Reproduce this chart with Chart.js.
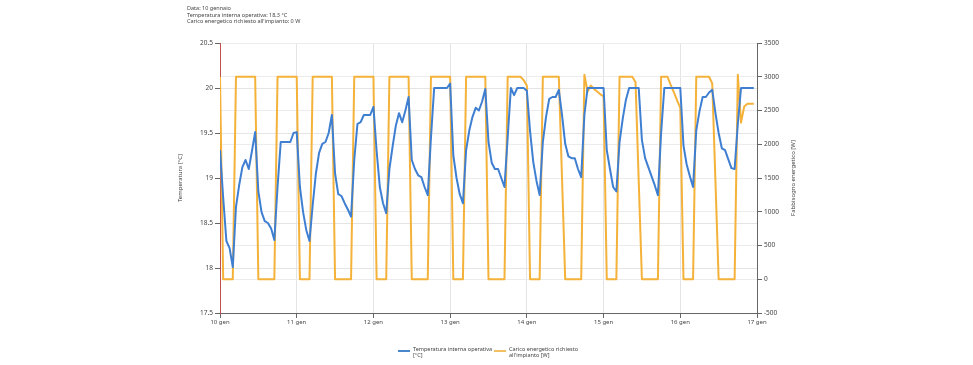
<!DOCTYPE html>
<html>
<head>
<meta charset="utf-8">
<script src="https://cdn.jsdelivr.net/npm/chart.js@4.4.1/dist/chart.umd.min.js"></script>
<style>
  body { margin: 0; background: #fff; font-family: "Noto Sans", "DejaVu Sans", sans-serif; }
  #wrap { position: relative; width: 973px; height: 365px; }
  #myChart { position: absolute; left: 0; top: 0; }
  .info { position: absolute; left: 187px; top: 5px; font-size: 5.5px; line-height: 6.5px; color: #444; }
  .legend { position: absolute; top: 346px; font-size: 5.5px; line-height: 6px; color: #444; }
  .legend .sw { position: absolute; top: 4px; width: 12px; height: 2px; }
  .legend .tx { position: absolute; left: 15px; top: 0; white-space: nowrap; }
</style>
</head>
<body>
<div id="wrap">
  <canvas id="myChart" width="973" height="365"></canvas>
  <div class="info">
    Data: 10 gennaio<br>
    Temperatura interna operativa: 18,3 °C<br>
    Carico energetico richiesto all'impianto: 0 W
  </div>
  <div class="legend" style="left:398px">
    <div class="sw" style="background:#4a86cc"></div>
    <div class="tx">Temperatura interna operativa<br>[°C]</div>
  </div>
  <div class="legend" style="left:494px">
    <div class="sw" style="background:#f2c063"></div>
    <div class="tx">Carico energetico richiesto<br>all'impianto [W]</div>
  </div>
</div>
<script>
// giorni sull'asse x (un tick ogni 24 ore)
const dayLabels = ['10 gen', '11 gen', '12 gen', '13 gen', '14 gen', '15 gen', '16 gen', '17 gen'];

// temperatura interna operativa [°C], valori orari
const temperature = [
    19.31, 18.78, 18.30, 18.22, 18.01, 18.68, 18.92, 19.12, 19.20, 19.10, 19.30, 19.51,
    18.85, 18.62, 18.52, 18.50, 18.44, 18.31, 18.90, 19.40, 19.40, 19.40, 19.40, 19.50,
    19.51, 18.90, 18.62, 18.42, 18.30, 18.70, 19.05, 19.28, 19.38, 19.40, 19.50, 19.70,
    19.05, 18.82, 18.80, 18.72, 18.65, 18.57, 19.20, 19.60, 19.62, 19.70, 19.70, 19.70,
    19.79, 19.30, 18.90, 18.72, 18.61, 19.10, 19.35, 19.58, 19.72, 19.62, 19.75, 19.90,
    19.20, 19.10, 19.03, 19.01, 18.90, 18.81, 19.45, 20.00, 20.00, 20.00, 20.00, 20.00,
    20.05, 19.25, 19.00, 18.82, 18.72, 19.31, 19.53, 19.68, 19.78, 19.75, 19.85, 19.99,
    19.40, 19.17, 19.10, 19.10, 19.00, 18.90, 19.45, 20.00, 19.92, 20.00, 20.00, 20.00,
    19.97, 19.52, 19.18, 18.97, 18.81, 19.40, 19.68, 19.88, 19.90, 19.90, 19.98, 19.70,
    19.38, 19.24, 19.22, 19.22, 19.10, 19.01, 19.70, 20.00, 20.00, 20.00, 20.00, 20.00,
    20.00, 19.31, 19.10, 18.90, 18.85, 19.40, 19.66, 19.87, 20.00, 20.00, 20.00, 20.00,
    19.42, 19.22, 19.12, 19.02, 18.92, 18.81, 19.50, 20.00, 20.00, 20.00, 20.00, 20.00,
    20.00, 19.36, 19.15, 19.02, 18.90, 19.53, 19.74, 19.90, 19.90, 19.95, 19.98, 19.72,
    19.50, 19.33, 19.31, 19.21, 19.11, 19.10, 19.60, 20.00, 20.00, 20.00, 20.00, 20.00
];

// carico energetico richiesto all'impianto [W], valori orari
const load = [
    3000, 0, 0, 0, 0, 3000, 3000, 3000, 3000, 3000, 3000, 3000,
    0, 0, 0, 0, 0, 0, 3000, 3000, 3000, 3000, 3000, 3000,
    3000, 0, 0, 0, 0, 3000, 3000, 3000, 3000, 3000, 3000, 3000,
    0, 0, 0, 0, 0, 0, 3000, 3000, 3000, 3000, 3000, 3000,
    3000, 0, 0, 0, 0, 3000, 3000, 3000, 3000, 3000, 3000, 3000,
    0, 0, 0, 0, 0, 0, 3000, 3000, 3000, 3000, 3000, 3000,
    3000, 0, 0, 0, 0, 3000, 3000, 3000, 3000, 3000, 3000, 3000,
    0, 0, 0, 0, 0, 0, 3000, 3000, 3000, 3000, 3000, 2950,
    2870, 0, 0, 0, 0, 3000, 3000, 3000, 3000, 3000, 3000, 1500,
    0, 0, 0, 0, 0, 0, 3030, 2780, 2870, 2820, 2780, 2740,
    2710, 0, 0, 0, 0, 3000, 3000, 3000, 3000, 3000, 2920, 1450,
    0, 0, 0, 0, 0, 0, 3000, 3000, 3000, 2880, 2770, 2650,
    2540, 0, 0, 0, 0, 3000, 3000, 3000, 3000, 3000, 2900, 1450,
    0, 0, 0, 0, 0, 0, 3030, 2320, 2560, 2600, 2600, 2600
];

const hours = temperature.map((v, i) => i);

const tickFont = { family: '"Noto Sans", sans-serif', size: 6.5 };

// titoli degli assi verticali disegnati a mano (entrambi letti dal basso verso l'alto)
const axisTitles = {
    id: 'axisTitles',
    afterDraw(chart) {
        const ctx = chart.ctx;
        const area = chart.chartArea;
        const midY = (area.top + area.bottom) / 2;
        ctx.save();
        ctx.fillStyle = '#444';
        ctx.font = '6px "Noto Sans", sans-serif';
        ctx.textAlign = 'center';
        ctx.textBaseline = 'middle';
        [[180.5, 'Temperatura [°C]'], [793, 'Fabbisogno energetico [W]']].forEach(t => {
            ctx.save();
            ctx.translate(t[0], midY);
            ctx.rotate(-Math.PI / 2);
            ctx.fillText(t[1], 0, 0);
            ctx.restore();
        });
        ctx.restore();
    }
};

const ctx = document.getElementById('myChart').getContext('2d');
const chart = new Chart(ctx, {
    type: 'line',
    data: {
        labels: hours,
        datasets: [{
            label: 'Temperatura interna operativa [°C]',
            data: temperature,
            yAxisID: 'y',
            borderColor: '#3f7fd2',
            borderWidth: 2,
            borderJoinStyle: 'round',
            pointRadius: 0,
            tension: 0
        }, {
            label: "Carico energetico richiesto all'impianto [W]",
            data: load,
            yAxisID: 'y1',
            borderColor: '#f4b23a',
            borderWidth: 2,
            borderJoinStyle: 'round',
            pointRadius: 0,
            tension: 0
        }]
    },
    options: {
        responsive: false,
        animation: false,
        layout: { padding: { top: 43 } },
        plugins: {
            legend: { display: false },
            tooltip: { enabled: false }
        },
        scales: {
            x: {
                type: 'linear',
                min: 0,
                max: 168,
                afterFit: s => { s.height = 52; },
                ticks: {
                    stepSize: 24,
                    font: { family: '"Noto Sans", sans-serif', size: 6 },
                    color: '#444',
                    padding: 1,
                    maxRotation: 0,
                    callback: v => dayLabels[v / 24]
                },
                grid: { color: '#e4e4e4', tickColor: '#666', tickLength: 5 },
                border: { color: '#666' }
            },
            y: {
                position: 'left',
                min: 17.5,
                max: 20.5,
                afterFit: s => { s.width = 220; },
                ticks: { stepSize: 0.5, font: tickFont, color: '#444', padding: 2, callback: v => String(v) },
                grid: { color: '#e4e4e4', tickColor: '#666', tickLength: 5 },
                border: { color: '#c0504d' }
            },
            y1: {
                position: 'right',
                min: -500,
                max: 3500,
                afterFit: s => { s.width = 216; },
                ticks: { stepSize: 500, font: tickFont, color: '#444', padding: 2, callback: v => String(v) },
                grid: { color: '#ececec', tickColor: '#666', tickLength: 5 },
                border: { color: '#666' }
            }
        }
    },
    plugins: [axisTitles]
});
</script>
</body>
</html>
